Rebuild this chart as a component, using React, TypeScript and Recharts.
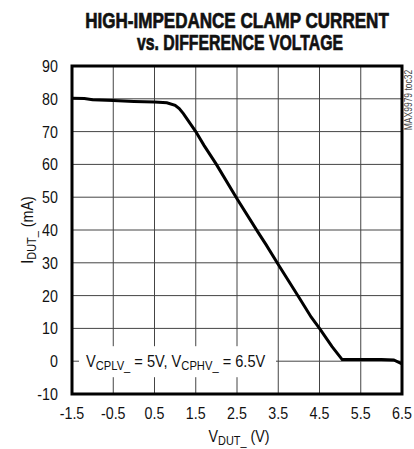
import React from "react";
import {
  CartesianGrid,
  Label,
  Line,
  LineChart,
  ReferenceArea,
  ReferenceDot,
  XAxis,
  YAxis,
} from "recharts";

const FONT = "'Liberation Sans', Arial, sans-serif";
const NARROW = 0.84;

// V_DUT_ (V)
const vdut = [
  -1.5, -1.2, -1.0, -0.5, 0, 0.5, 0.8, 1.0, 1.1, 1.2, 1.5, 1.7, 2.0, 2.5, 3.0,
  3.2, 3.5, 4.0, 4.3, 4.5, 4.8, 5.05, 5.5, 6.0, 6.3, 6.5,
];
// I_DUT_ (mA)
const idut = [
  80.2, 80.1, 79.7, 79.5, 79.2, 79.0, 78.8, 78.0, 77.0, 75.5, 70.0, 65.8, 60.0,
  49.5, 39.5, 35.6, 29.5, 19.5, 13.4, 10.0, 4.5, 0.5, 0.5, 0.5, 0.4, -0.8,
];

const xTicks = [-1.5, -0.5, 0.5, 1.5, 2.5, 3.5, 4.5, 5.5, 6.5];
const yTicks = [-10, 0, 10, 20, 30, 40, 50, 60, 70, 80, 90];

const data = vdut.map((v, i) => ({ v, i: idut[i] }));

function XTick({ x, y, payload }: any) {
  return (
    <text
      transform={`translate(${x},${y + 25}) scale(${NARROW},1)`}
      textAnchor="middle"
      fontFamily={FONT}
      fontSize={17}
      fill="#111"
    >
      {payload.value}
    </text>
  );
}

function YTick({ x, y, payload }: any) {
  return (
    <text
      transform={`translate(${x - 14},${y + 6}) scale(${NARROW},1)`}
      textAnchor="end"
      fontFamily={FONT}
      fontSize={17}
      fill="#111"
    >
      {payload.value}
    </text>
  );
}

function XLabel({ viewBox }: any) {
  const { x, width } = viewBox;
  return (
    <text
      transform={`translate(${x + width / 2 + 2},442) scale(${NARROW},1)`}
      textAnchor="middle"
      fontFamily={FONT}
      fontSize={17}
      fill="#111"
    >
      <tspan>V</tspan>
      <tspan fontSize={13} dy={3}>DUT_</tspan>
      <tspan dy={-3}> (V)</tspan>
    </text>
  );
}

function YLabel({ viewBox }: any) {
  const { y, height } = viewBox;
  const cy = y + height / 2;
  return (
    <text
      transform={`translate(33,${cy}) rotate(-90) scale(${NARROW},1)`}
      textAnchor="middle"
      fontFamily={FONT}
      fontSize={17}
      fill="#111"
    >
      <tspan>I</tspan>
      <tspan fontSize={13} dy={3}>DUT_</tspan>
      <tspan dy={-3}> (mA)</tspan>
    </text>
  );
}

function Note(props: any) {
  const { cx, cy } = props;
  return (
    <g>
      <rect x={cx + 7} y={cy - 15} width={197} height={31} fill="#fff" />
      <text
        transform={`translate(${cx + 14},${cy + 6}) scale(0.86,1)`}
        fontFamily={FONT}
        fontSize={17}
        fill="#111"
      >
        <tspan>V</tspan>
        <tspan fontSize={13} dy={3}>CPLV_</tspan>
        <tspan dy={-3}> = 5V, V</tspan>
        <tspan fontSize={13} dy={3}>CPHV_</tspan>
        <tspan dy={-3}> = 6.5V</tspan>
      </text>
    </g>
  );
}

export default function App() {
  return (
    <div style={{ position: "absolute", left: 0, top: 0, width: 414, height: 449, background: "#fff" }}>
      <svg width={414} height={60} style={{ position: "absolute", left: 0, top: 0 }}>
        <text
          transform="translate(237,28) scale(0.775,1)"
          textAnchor="middle"
          fontFamily={FONT}
          fontWeight="bold"
          fontSize={22}
          fill="#111"
          stroke="#111"
          strokeWidth={0.7}
        >
          HIGH-IMPEDANCE CLAMP CURRENT
        </text>
        <text
          transform="translate(240,50) scale(0.72,1)"
          textAnchor="middle"
          fontFamily={FONT}
          fontWeight="bold"
          fontSize={22}
          fill="#111"
          stroke="#111"
          strokeWidth={0.7}
        >
          vs. DIFFERENCE VOLTAGE
        </text>
      </svg>
      <svg width={20} height={110} style={{ position: "absolute", left: 398, top: 45 }}>
        <text
          transform="translate(14,55) rotate(-90) scale(0.85,1)"
          textAnchor="middle"
          fontFamily={FONT}
          fontSize={10}
          fill="#444"
        >
          MAX9979 toc32
        </text>
      </svg>
      <div style={{ position: "absolute", left: 0, top: 0 }}>
        <LineChart width={414} height={449} data={data} margin={{ top: 66, right: 12, bottom: 25, left: 12 }}>
          <CartesianGrid stroke="#444" strokeWidth={1} vertical horizontal />
          <XAxis
            dataKey="v"
            type="number"
            domain={[-1.5, 6.5]}
            ticks={xTicks}
            interval={0}
            axisLine={false}
            tickLine={false}
            tickSize={0}
            tickMargin={0}
            tick={<XTick />}
            height={30}
          >
            <Label content={<XLabel />} />
          </XAxis>
          <YAxis
            type="number"
            domain={[-10, 90]}
            ticks={yTicks}
            interval={0}
            axisLine={false}
            tickLine={false}
            tickSize={0}
            tickMargin={0}
            tick={<YTick />}
            width={60}
          >
            <Label content={<YLabel />} />
          </YAxis>
          <ReferenceDot x={-1.5} y={0} r={0} shape={<Note />} />
          <Line
            type="linear"
            dataKey="i"
            stroke="#000"
            strokeWidth={3}
            dot={false}
            isAnimationActive={false}
          />
          <ReferenceArea x1={-1.5} x2={6.5} y1={-10} y2={90} fill="none" stroke="#000" strokeWidth={3} />
        </LineChart>
      </div>
    </div>
  );
}
